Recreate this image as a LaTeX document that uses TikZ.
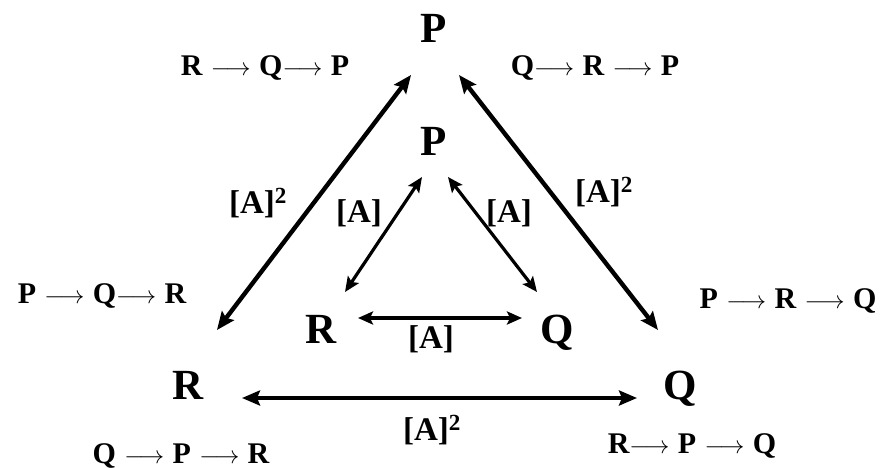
\documentclass[tikz,border=0pt]{standalone}
\usepackage{fontspec}
\setmainfont{Liberation Serif}
\usetikzlibrary{arrows.meta}
\newcommand{\ra}{\ensuremath{\longrightarrow}}
\begin{document}
\begin{tikzpicture}[x=1pt,y=-1pt,
  big/.style={font=\fontsize{43}{46}\selectfont\bfseries, anchor=base, inner sep=0pt},
  seq/.style={font=\fontsize{30}{32}\selectfont\bfseries, anchor=base, inner sep=0pt},
  lab/.style={font=\fontsize{33}{36}\selectfont\bfseries, anchor=base, inner sep=0pt},
  outer/.style={line width=4.4pt, {Stealth[length=18pt,width=15pt,inset=3pt]}-{Stealth[length=18pt,width=15pt,inset=3pt]}},
  inner/.style={line width=3.2pt, {Stealth[length=15pt,width=13pt,inset=3pt]}-{Stealth[length=15pt,width=13pt,inset=3pt]}}]
\useasboundingbox (0,0) rectangle (883,468);
% big letters
\node[big] (Ptop) at (434,43) {P};
\node[big] (Pin) at (434,155) {P};
\node[big] (Rin) at (321,343) {R};
\node[big] (Qin) at (557,343) {Q};
\node[big] (Rout) at (188,399) {R};
\node[big] (Qout) at (680,399) {Q};
% sequence labels
\node[seq] (s1) at (265,76) {R\;\ra\;Q\ra\;P};
\node[seq] (s2) at (595,76) {Q\ra\;R\;\ra\;P};
\node[seq] (s3) at (102,303) {P\;\ra\;Q\ra\;R};
\node[seq] (s4) at (788,308) {P\;\ra\;R\;\ra\;Q};
\node[seq] (s5) at (181,463) {Q\;\ra\;P\;\ra\;R};
\node[seq] (s6) at (692,453) {R\ra\;P\;\ra\;Q};
% edge labels
\node[lab] (l1) at (359,222) {[A]};
\node[lab] (l2) at (509,222) {[A]};
\node[lab] (l3) at (431,348) {[A]};
\node[lab] (l4) at (258,213) {[A]\textsuperscript{2}};
\node[lab] (l5) at (604,202) {[A]\textsuperscript{2}};
\node[lab] (l6) at (432,440) {[A]\textsuperscript{2}};
% arrow end points
\coordinate (oL1) at (411,75);
\coordinate (oL2) at (217,330);
\coordinate (oR1) at (459,75);
\coordinate (oR2) at (658,330);
\coordinate (oB1) at (242,398);
\coordinate (oB2) at (637,398);
\coordinate (iL1) at (422,177);
\coordinate (iL2) at (345,292);
\coordinate (iR1) at (448,177);
\coordinate (iR2) at (537,292);
\coordinate (iB1) at (358,318);
\coordinate (iB2) at (522,318);
\draw[outer] (oL1) -- (oL2);
\draw[outer] (oR1) -- (oR2);
\draw[outer] (oB1) -- (oB2);
\draw[inner] (iL1) -- (iL2);
\draw[inner] (iR1) -- (iR2);
\draw[inner] (iB1) -- (iB2);
\end{tikzpicture}
\end{document}
